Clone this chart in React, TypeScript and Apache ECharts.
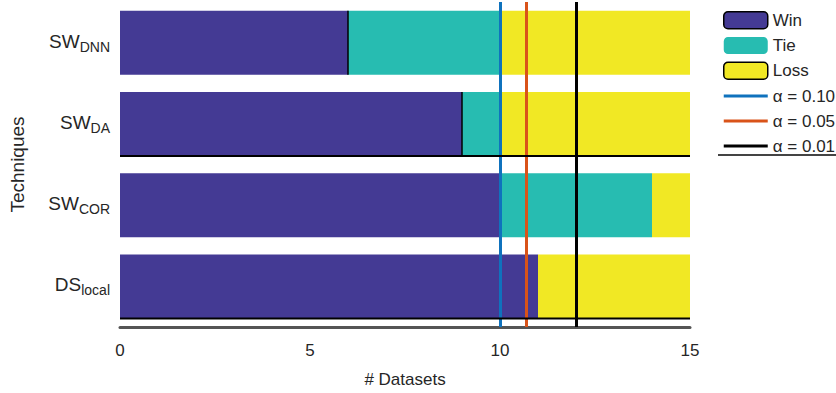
import React, { useEffect, useRef } from "react";
import * as echarts from "echarts";

// Techniques, top to bottom (name and subscript)
const techniques = ["SW|DNN", "SW|DA", "SW|COR", "DS|local"];
const winCounts = [6, 9, 10, 11];
const tieCounts = [4, 1, 4, 0];
const lossCounts = [5, 5, 1, 4];
// Critical number of wins for the sign test at each significance level
const alphaLabels = ["α = 0.10", "α = 0.05", "α = 0.01"];
const alphaThresholds = [10, 10.7, 12];
const alphaColors = ["#0f72bd", "#d95319", "#000000"];
// Which bars carry a dark edge on the win/tie boundary and under the bar
const winEdge = [true, true, false, false];
const bottomEdge = [false, true, false, true];
const xTicks = { min: 0, max: 15, interval: 5 };

const FONT = "Liberation Sans, Arial, sans-serif";
const INK = "#262626";
const LINE_ICON = "path://M0 0H44V3H0Z";

export default function App() {
  const ref = useRef<HTMLDivElement>(null);

  useEffect(() => {
    if (!ref.current) return;
    const chart = echarts.init(ref.current, null, { renderer: "svg" });

    const barBase = {
      type: "bar" as const,
      stack: "total",
      barWidth: 64,
    };

    const edgeSeries = {
      type: "custom" as const,
      silent: true,
      z: 5,
      data: techniques.map((_, i) => [i, winCounts[i]]),
      renderItem: (_params: any, api: any) => {
        const i = api.value(0);
        const win = api.value(1);
        const center = api.coord([0, i]);
        const half = 32;
        const x0 = api.coord([xTicks.min, i])[0];
        const x1 = api.coord([xTicks.max, i])[0];
        const xw = api.coord([win, i])[0];
        const children: any[] = [];
        if (winEdge[i]) {
          children.push({
            type: "line",
            shape: { x1: xw, y1: center[1] - half, x2: xw, y2: center[1] + half },
            style: { stroke: "#000", lineWidth: 1.5 },
          });
        }
        if (bottomEdge[i]) {
          children.push({
            type: "line",
            shape: { x1: x0, y1: center[1] + half, x2: x1, y2: center[1] + half },
            style: { stroke: "#000", lineWidth: 2 },
          });
        }
        return { type: "group", children };
      },
    };

    const thresholdSeries = alphaLabels.map((name, k) => ({
      type: "line" as const,
      name,
      data: [] as number[],
      symbol: "none",
      color: alphaColors[k],
      lineStyle: { color: alphaColors[k], width: 3 },
      z: 6,
      markLine: {
        silent: true,
        symbol: ["none", "none"],
        label: { show: false },
        lineStyle: { color: alphaColors[k], width: 3, type: "solid" },
        data: [{ xAxis: alphaThresholds[k] }],
      },
    }));

    chart.setOption({
      animation: false,
      textStyle: { fontFamily: FONT },
      grid: { left: 118, right: 146, top: 2, bottom: 66 },
      legend: {
        orient: "vertical",
        left: 718,
        top: 6,
        itemWidth: 44,
        itemHeight: 17,
        itemGap: 7,
        symbolKeepAspect: true,
        textStyle: { fontSize: 17, color: INK, fontFamily: FONT, lineHeight: 18 },
        data: [
          { name: "Win", itemStyle: { borderColor: "#000", borderWidth: 1.5 } },
          { name: "Tie" },
          { name: "Loss", itemStyle: { borderColor: "#000", borderWidth: 1.5 } },
          ...alphaLabels.map((n) => ({ name: n, icon: LINE_ICON })),
        ],
      },
      graphic: [
        {
          type: "line",
          shape: { x1: 718, y1: 155, x2: 836, y2: 155 },
          style: { stroke: "#444", lineWidth: 2 },
        },
      ],
      xAxis: {
        type: "value",
        min: xTicks.min,
        max: xTicks.max,
        interval: xTicks.interval,
        name: "# Datasets",
        nameLocation: "middle",
        nameGap: 44,
        nameTextStyle: { fontSize: 17, color: INK },
        axisLine: { show: true, onZero: false, lineStyle: { color: "#555", width: 3 } },
        axisTick: { show: false },
        splitLine: { show: false },
        axisLabel: { fontSize: 17, color: INK, margin: 15 },
      },
      yAxis: {
        type: "category",
        inverse: true,
        data: techniques,
        name: "Techniques",
        nameLocation: "middle",
        nameGap: 93,
        nameTextStyle: { fontSize: 19, color: INK },
        axisLine: { show: false },
        axisTick: { show: false },
        axisLabel: {
          margin: 10,
          formatter: (v: string) => {
            const [main, sub] = v.split("|");
            return `{m|${main}}{s|${sub}}`;
          },
          rich: {
            m: { fontSize: 19, color: INK, fontFamily: FONT, lineHeight: 22, verticalAlign: "top" },
            s: {
              fontSize: 14,
              color: INK,
              fontFamily: FONT,
              lineHeight: 14,
              padding: [14, 0, 0, 0],
              verticalAlign: "bottom",
            },
          },
        },
      },
      series: [
        { ...barBase, name: "Win", data: winCounts, itemStyle: { color: "#443a94" } },
        { ...barBase, name: "Tie", data: tieCounts, itemStyle: { color: "#27bcb1" } },
        { ...barBase, name: "Loss", data: lossCounts, itemStyle: { color: "#f1e824" } },
        edgeSeries,
        ...thresholdSeries,
      ],
    });

    return () => chart.dispose();
  }, []);

  return <div ref={ref} style={{ width: 836, height: 393, position: "absolute", left: 0, top: 0 }} />;
}
